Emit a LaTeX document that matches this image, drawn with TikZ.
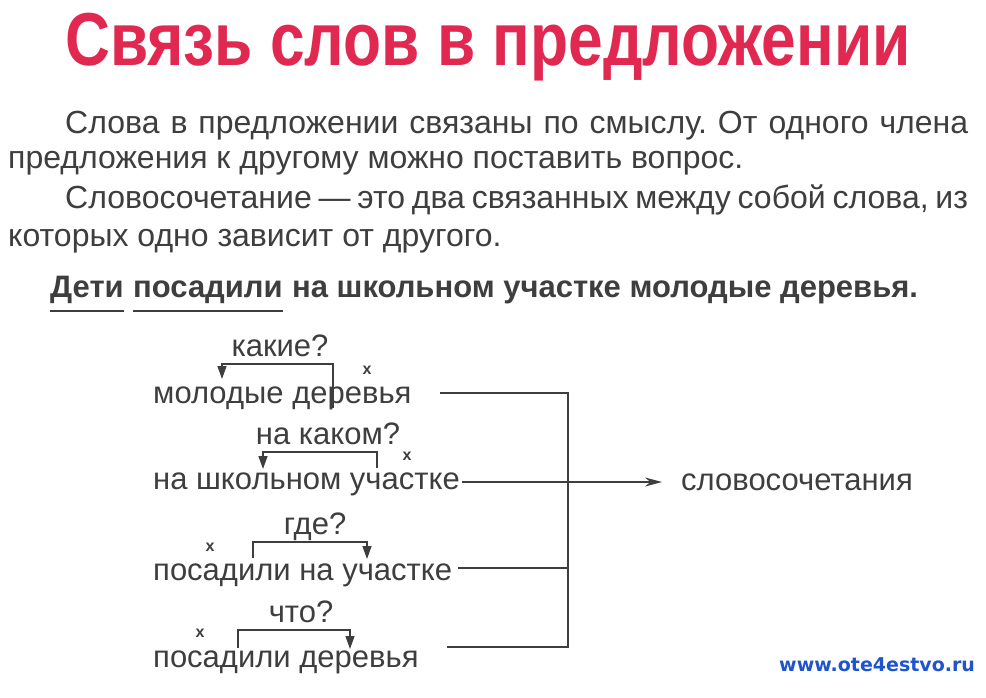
\documentclass[tikz,border=0pt]{standalone}
\usepackage{fontspec}
\setmainfont{Liberation Sans}
\newfontfamily\headfont[FakeStretch=0.83]{Liberation Sans}
\newfontfamily\webfont{DejaVu Sans}
\usetikzlibrary{positioning,arrows.meta}
\definecolor{ink}{RGB}{62,62,62}
\definecolor{headred}{RGB}{224,40,80}
\definecolor{webblue}{RGB}{32,84,204}
\frenchspacing

\begin{document}
\begin{tikzpicture}[x = 1pt, y = -1pt,
  txt/.style = {anchor = base west, inner sep = 0, text = ink, font = \fontsize{31}{36}\selectfont},
  para/.style = {anchor = base west, inner sep = 0, text = ink, font = \fontsize{32}{36}\selectfont},
  sentence/.style = {anchor = base west, inner sep = 0, text = ink, font = \fontsize{31}{36}\selectfont\bfseries},
  question/.style = {anchor = base, inner sep = 0, text = ink, font = \fontsize{31}{34}\selectfont},
  xmark/.style = {inner sep = 0, text = ink, font = \fontsize{16}{16}\selectfont\bfseries},
  bracket/.style = {draw = ink, line width = 1.4pt, -{Triangle[length = 13pt, width = 9pt]}},
  link/.style = {draw = ink, line width = 1.4pt}]
\useasboundingbox (0,0) rectangle (986,698);
\fill[white] (0,0) rectangle (986,698);

\node[anchor = base west, inner sep = 0, text = headred, font = \headfont\fontsize{75}{80}\selectfont\bfseries] (title) at (65,66) {Связь слов в предложении};

\node[para] (p1) at (65,134) {\makebox[903pt][s]{Слова в предложении связаны по смыслу. От одного члена}};
\node[para] (p2) at (8,169) {предложения к другому можно поставить вопрос.};
\node[para] (p3) at (65,208) {\makebox[903pt][s]{Словосочетание — это два связанных между собой слова, из}};
\node[para] (p4) at (8,246) {которых одно зависит от другого.};

\node[sentence] (deti) at (50,297) {Дети};
\node[sentence] (posadili) at ([xshift = 9pt]deti.base east) {посадили};
\node[sentence] (rest) at ([xshift = 9pt]posadili.base east) {на школьном участке молодые деревья.};
\draw[ink, line width = 2pt] ([yshift = -14pt]deti.base west) -- ([yshift = -14pt]deti.base east);
\draw[ink, line width = 2pt] ([yshift = -14pt]posadili.base west) -- ([yshift = -14pt]posadili.base east);

% word pairs
\node[txt] (md) at (153,403) {молодые деревья};
\node[question] (q1) at (280,356) {какие?};
\node[xmark] (x1) at (367,370) {x};
\coordinate (md head) at (222,379);
\coordinate (md dep) at (333,408);
\draw[bracket] (md dep) |- ([yshift = -8pt]q1.base) -| (md head);

\node[txt] (ns) at (153,489) {на школьном участке};
\node[question] (q2) at (328,444) {на каком?};
\node[xmark] (x2) at (407,456) {x};
\coordinate (ns head) at (263,469);
\coordinate (ns dep) at (377,468);
\draw[bracket] (ns dep) |- ([yshift = -8pt]q2.base) -| (ns head);

\node[txt] (pu) at (153,580) {посадили на участке};
\node[question] (q3) at (315,534) {где?};
\node[xmark] (x3) at (210,547) {x};
\coordinate (pu head) at (367,559);
\coordinate (pu dep) at (253,558);
\draw[bracket] (pu dep) |- ([yshift = -8pt]q3.base) -| (pu head);

\node[txt] (pd) at (153,667) {посадили деревья};
\node[question] (q4) at (301,622) {что?};
\node[xmark] (x4) at (200,633) {x};
\coordinate (pd head) at (350,649);
\coordinate (pd dep) at (238,648);
\draw[bracket] (pd dep) |- ([yshift = -8pt]q4.base) -| (pd head);

% collecting line
\node[txt] (combo) at (681,490) {словосочетания};
\coordinate (md tail) at (440,393);
\coordinate (ns tail) at (462,482);
\coordinate (pu tail) at (458,568);
\coordinate (pd tail) at (447,647);
\coordinate (bus top) at (568,393);
\coordinate (bus bot) at (568,647);
\draw[link] (md tail) -- (bus top) -- (bus bot) -- (pd tail);
\draw[link] (pu tail) -- (pu tail -| bus top);
\draw[link, -{Stealth[length = 17pt, width = 9pt]}] (ns tail) -- ([xshift = -19pt]ns tail -| combo.west);

\node[anchor = base west, inner sep = 0, text = webblue, font = \webfont\fontsize{19}{22}\selectfont\bfseries] (web) at (779,671) {www.ote4estvo.ru};
\end{tikzpicture}
\end{document}
